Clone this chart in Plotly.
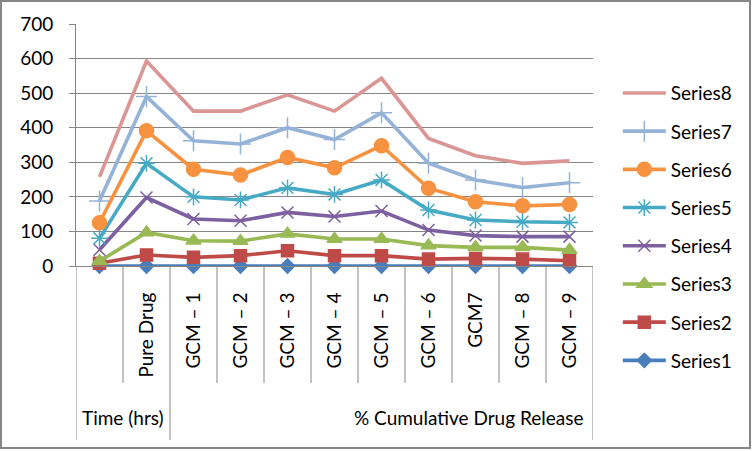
import plotly.graph_objects as go

categories = ["", "Pure Drug", "GCM – 1", "GCM – 2", "GCM – 3", "GCM – 4",
              "GCM – 5", "GCM – 6", "GCM7", "GCM – 8", "GCM – 9"]
group_labels = ["Time (hrs)", "% Cumulative Drug Release"]
y_ticks = [0, 100, 200, 300, 400, 500, 600, 700]

series_names = ["Series1", "Series2", "Series3", "Series4",
                "Series5", "Series6", "Series7", "Series8"]
series1 = [0, 0, 0, 0, 0, 0, 0, 0, 0, 0, 0]
series2 = [8, 32, 25, 30, 44, 30, 30, 20, 22, 20, 15]
series3 = [14, 97, 73, 72, 93, 78, 78, 59, 54, 54, 46]
series4 = [47, 198, 136, 131, 155, 143, 159, 104, 88, 85, 85]
series5 = [80, 297, 200, 191, 226, 207, 249, 162, 133, 128, 126]
series6 = [125, 391, 280, 263, 314, 284, 348, 225, 186, 174, 178]
series7 = [188, 490, 362, 353, 400, 366, 443, 297, 249, 227, 241]
series8 = [258, 593, 448, 448, 495, 448, 543, 369, 319, 297, 304]
all_series = [series1, series2, series3, series4, series5, series6, series7, series8]

colors = ["#4A7EBB", "#BE4B48", "#98B954", "#7D60A0", "#46AAC5", "#F69240", "#95B3D7", "#D99694"]
symbols = ["diamond", "square", "triangle-up", "x-thin-open", "asterisk-open", "circle", "cross-thin-open", None]
msizes = [11, 12, 13, 12, 14, 14, 15, 0]

FONT = "Lato, 'Open Sans', sans-serif"
FS = 19
GRID = "#868686"

x_idx = list(range(len(categories)))

fig = go.Figure()
n = len(series_names)
for i, (name, vals, col, sym, ms) in enumerate(zip(series_names, all_series, colors, symbols, msizes)):
    if sym is None:
        mode = "lines"
        marker = None
    else:
        mode = "lines+markers"
        marker = dict(symbol=sym, size=ms, color=col, line=dict(color=col, width=1.5))
    fig.add_trace(go.Scatter(
        x=x_idx, y=vals, name=name, mode=mode, marker=marker,
        line=dict(color=col, width=3.6), legendgroup=name, legendrank=n - i,
        cliponaxis=False,
    ))

shapes = []
long_lines = {-0.5, 1.5, 10.5}
for k in range(len(categories) + 1):
    xb = k - 0.5
    y1 = -0.719 if xb in long_lines else -0.4835
    shapes.append(dict(type="line", xref="x", yref="paper", x0=xb, x1=xb, y0=0, y1=y1,
                       line=dict(color=GRID, width=1)))
shapes.append(dict(type="rect", xref="paper", yref="paper",
                   x0=-0.1451, x1=1.3037, y0=-0.752, y1=1.095,
                   line=dict(color=GRID, width=2)))

annotations = [
    dict(text=group_labels[0], x=0.5, xref="x", y=-0.624, yref="paper", yanchor="middle",
         showarrow=False, font=dict(family=FONT, size=FS, color="#000000")),
    dict(text=group_labels[1], x=7.86, xref="x", y=-0.624, yref="paper", yanchor="middle",
         showarrow=False, font=dict(family=FONT, size=FS, color="#000000")),
]

fig.update_layout(
    width=753, height=451, autosize=False,
    margin=dict(l=76, r=160, t=24, b=185, pad=0, autoexpand=False),
    paper_bgcolor="white", plot_bgcolor="white",
    font=dict(family=FONT, size=FS, color="#000000"),
    showlegend=True,
    legend=dict(x=1.048, xanchor="left", y=0.793, yanchor="top",
                traceorder="grouped", tracegroupgap=10.5, maxheight=440,
                itemwidth=43, font=dict(family=FONT, size=FS, color="#000000"),
                bgcolor="rgba(0,0,0,0)"),
    shapes=shapes, annotations=annotations,
)
fig.update_xaxes(range=[-0.5, 10.5], tickvals=x_idx, ticktext=categories,
                 tickangle=-90, showgrid=False, zeroline=False, showline=True,
                 linecolor=GRID, linewidth=1, ticks="", ticklabelstandoff=18,
                 tickfont=dict(family=FONT, size=FS, color="#000000"))
fig.update_yaxes(range=[0, 700], tickvals=y_ticks, showgrid=True, gridcolor=GRID,
                 gridwidth=1, zeroline=False, showline=True, linecolor=GRID,
                 linewidth=1, ticks="outside", ticklen=6, tickcolor=GRID,
                 ticklabelstandoff=12, tickfont=dict(family=FONT, size=FS, color="#000000"))

fig.write_html("out.html", config={"displayModeBar": False},
               post_script="document.body.style.margin='0';")
